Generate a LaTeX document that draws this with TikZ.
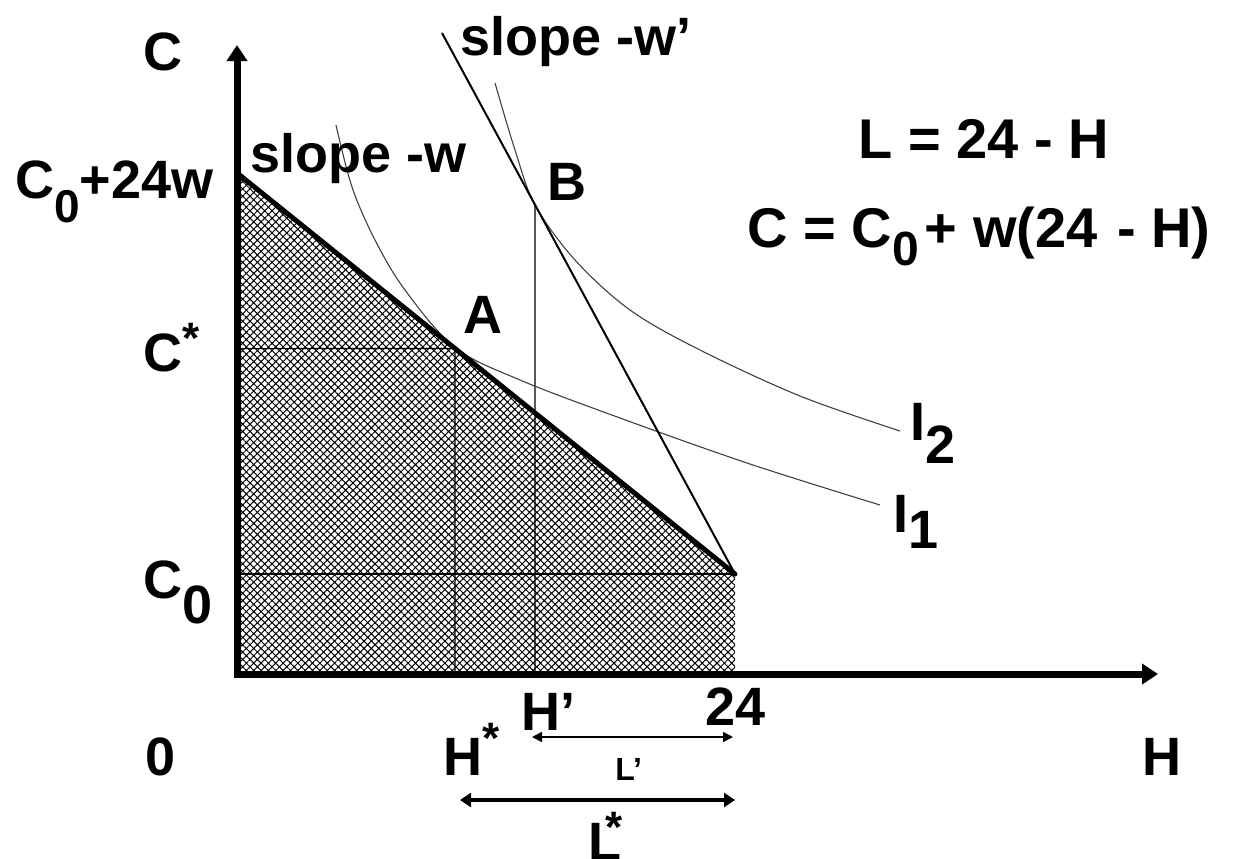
\documentclass[tikz,border=0pt]{standalone}
\usepackage{fontspec}
\setmainfont{Liberation Sans}
\usetikzlibrary{arrows.meta,patterns.meta,calc}
\newcommand\supst[1]{\raisebox{#1}{\fontsize{22}{22}\selectfont *}}
\begin{document}
\begin{tikzpicture}[x=0.5pt,y=-0.5pt,
  lbl/.style={inner sep=0pt, anchor=base west, font=\bfseries\fontsize{27}{29}\selectfont},
  eqlbl/.style={inner sep=0pt, anchor=base west, font=\bfseries\fontsize{28}{30}\selectfont},
  smalllbl/.style={inner sep=0pt, anchor=base west, font=\bfseries\fontsize{16}{18}\selectfont},
  axisline/.style={line width=3.5pt, line join=miter, -{Triangle[length=8pt,width=10pt]}},
  budget/.style={line width=2.5pt, line cap=round},
  steepline/.style={line width=1pt},
  guide/.style={line width=0.6pt},
  icurve/.style={line width=0.55pt, black!75},
  hatch/.style={pattern={Hatch[angle=45,distance=2.6pt,line width=0.5pt]}},
  thinarrow/.style={line width=0.8pt, {Triangle[length=5pt,width=5pt]}-{Triangle[length=5pt,width=5pt]}},
  thickarrow/.style={line width=1.6pt, {Triangle[length=5.5pt,width=7pt]}-{Triangle[length=5.5pt,width=7pt]}}
]
\useasboundingbox (0,0) rectangle (1236,858);

% key points
\coordinate (O) at (237,674);
\coordinate (Obot) at (237,678);
\coordinate (Oleft) at (234,674);
\coordinate (Ytip) at (237,45);
\coordinate (Xtip) at (1158,674);
\coordinate (Top) at (237,173);
\coordinate (E) at (735,574);
\coordinate (E0) at (735,674);
\coordinate (C0L) at (237,574);
\coordinate (S) at (442,33);
\coordinate (A) at ($(Top)!0.4378!(E)$);
\coordinate (Ax) at (455,674);
\coordinate (Ay) at (237,348.6);
\coordinate (B) at ($(S)!0.3174!(E)$);
\coordinate (Bx) at (535,674);
\coordinate (lpL) at (532,737);
\coordinate (lpR) at (733,737);
\coordinate (lsL) at (460,800);
\coordinate (lsR) at (735,800);

% hatched region
\fill[hatch] (O) -- (Top) -- (E) -- (E0) -- cycle;

% guide lines
\draw[guide] (C0L) -- (E);
\draw[guide] (Ay) -- (A) -- (Ax);
\draw[guide] (B) -- (Bx);

% indifference curves
\draw[icurve] plot[smooth, tension=0.55] coordinates {(336,125) (352,187) (375,240) (405,290) (455,347.5) (520,380) (620,418) (750,464) (880,505)};
\draw[icurve] plot[smooth, tension=0.55] coordinates {(495,83) (515,150) (535,205) (575,260) (630,310) (700,350) (800,396) (900,431)};

% budget lines
\draw[budget] (Top) -- (E);
\draw[steepline] (S) -- (E);

% axes
\draw[axisline] (Obot) -- (Ytip);
\draw[axisline] (Oleft) -- (Xtip);

% labels
\node[lbl] (cl) at (143,70) {C};
\node[lbl] (c24) at (15,198) {C\raisebox{-12pt}{\fontsize{23}{23}\selectfont 0}+24w};
\node[lbl] (sw) at (250,172) {slope -w};
\node[lbl] (sw2) at (460,55) {slope -w’};
\node[lbl] (Bl) at (547,200) {B};
\node[lbl] (Al) at (463,333) {A};
\node[lbl] (cs) at (143,371) {C\supst{9pt}};
\node[lbl] (c0) at (143,598) {C\raisebox{-12.5pt}{0}};
\node[eqlbl] (e1) at (858,158) {L = 24 - H};
\node[eqlbl] (e2) at (747,247) {C = C\raisebox{-9pt}{\fontsize{24}{24}\selectfont 0}\hspace{3pt}+ w(24\hspace{2pt} - H)};
\node[lbl] (i2) at (910,440) {I\raisebox{-11.5pt}{2}};
\node[lbl] (i1) at (893,532) {I\raisebox{-8pt}{1}};
\node[lbl] (hp) at (521,730) {H’};
\node[lbl] (t24) at (705,725) {24};
\node[lbl] (hs) at (443,775) {H\supst{11pt}};
\node[lbl] (zero) at (145,775) {0};
\node[lbl] (hh) at (1142,775) {H};
\node[smalllbl] (lp) at (615,780) {L’};
\node[lbl] (ls) at (588,860) {L\kern-8pt\supst{9pt}};

% arrows for L' and L*
\draw[thinarrow] (lpL) -- (lpR);
\draw[thickarrow] (lsL) -- (lsR);
\end{tikzpicture}
\end{document}
